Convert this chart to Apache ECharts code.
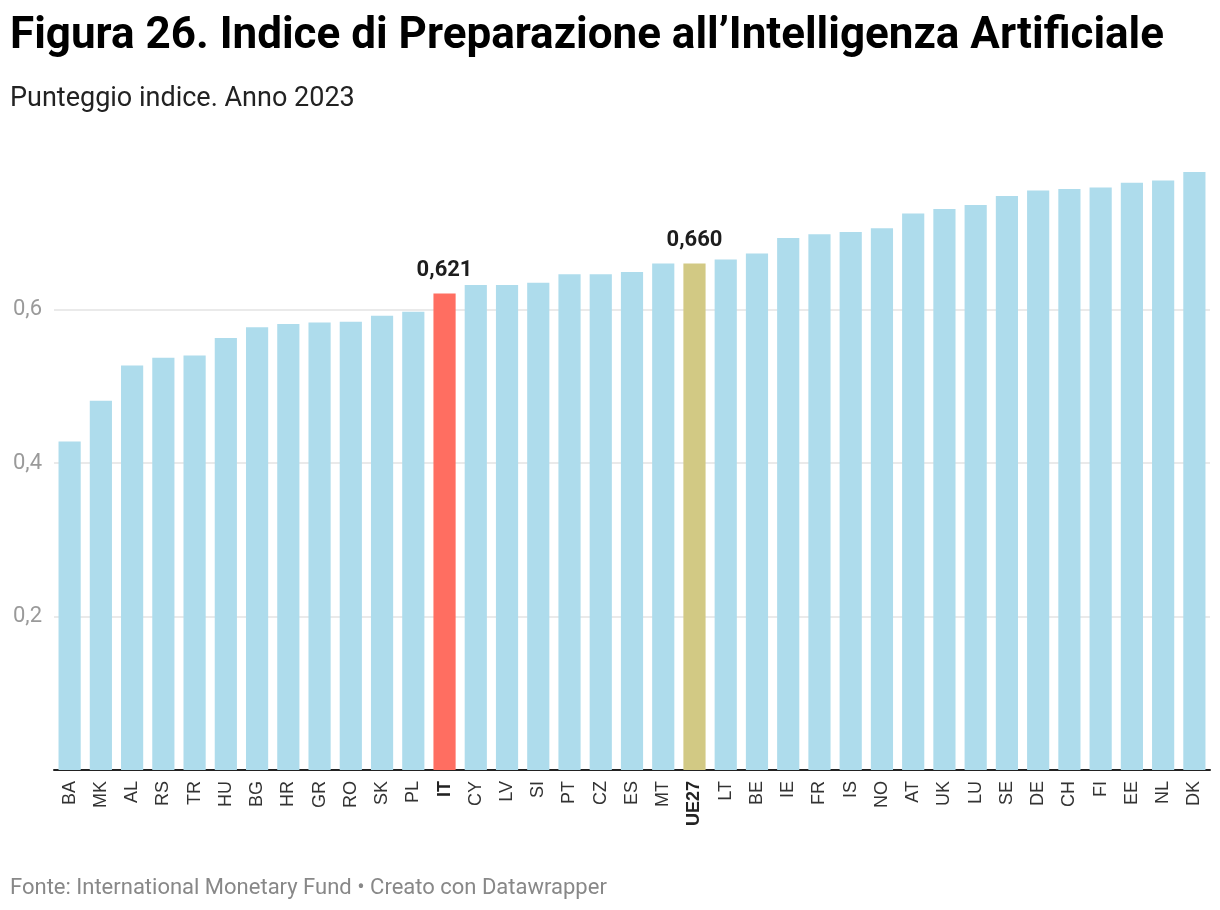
<!DOCTYPE html>
<html>
<head>
<meta charset="utf-8">
<script src="https://cdn.jsdelivr.net/npm/echarts@6/dist/echarts.min.js"></script>
<style>
html,body{margin:0;padding:0;background:#fff;}
#chart{width:1220px;height:910px;}
</style>
</head>
<body>
<div id="chart"></div>
<script>
const categories = ['BA','MK','AL','RS','TR','HU','BG','HR','GR','RO','SK','PL','IT','CY','LV','SI','PT','CZ','ES','MT','UE27','LT','BE','IE','FR','IS','NO','AT','UK','LU','SE','DE','CH','FI','EE','NL','DK'];
const values = [0.428,0.481,0.527,0.537,0.540,0.563,0.577,0.581,0.583,0.584,0.592,0.597,0.621,0.632,0.632,0.635,0.646,0.646,0.649,0.660,0.660,0.665,0.673,0.693,0.698,0.701,0.706,0.725,0.731,0.736,0.748,0.755,0.757,0.759,0.765,0.768,0.779];
const yTicks = [0.2,0.4,0.6];
const highlightColors = {IT:'#ff6e61', UE27:'#d2c984'};
const baseColor = '#aedcec';

const chart = echarts.init(document.getElementById('chart'), null, {renderer:'canvas'});
const data = values.map((v,i)=>{
  const c = categories[i];
  const hl = highlightColors[c];
  const item = {value:v, itemStyle:{color: hl || baseColor}};
  if (hl) {
    item.label = {show:true, position:'top', distance:12, formatter: p => p.value.toFixed(3).replace('.',','),
      fontFamily:'Roboto', fontWeight:'bold', fontSize:22, color:'#1d1d1d'};
  }
  return item;
});
const option = {
  backgroundColor:'#fff',
  animation:false,
  title:[
    {text:'Figura 26. Indice di Preparazione all\u2019Intelligenza Artificiale', left:5, top:10,
     textStyle:{fontFamily:'Roboto', fontWeight:'bold', fontSize:44, color:'#000'}},
    {text:'Punteggio indice. Anno 2023', left:5, top:81,
     textStyle:{fontFamily:'Roboto', fontWeight:'normal', fontSize:27, color:'#222'}},
    {text:'Fonte: International Monetary Fund \u2022 Creato con Datawrapper', left:5, top:872,
     textStyle:{fontFamily:'Roboto', fontWeight:'normal', fontSize:22, color:'#888'}}
  ],
  grid:{left:54, right:10, top:156, bottom:140},
  xAxis:{
    type:'category', data:categories,
    axisLine:{show:true, lineStyle:{color:'#222', width:2}},
    axisTick:{show:false},
    axisLabel:{rotate:90, margin:11, interval:0, fontFamily:'Liberation Sans, Arial', fontSize:18, color:'#333',
      formatter: v => highlightColors[v] ? '{b|'+v+'}' : v,
      rich:{b:{fontWeight:'bold', fontFamily:'Liberation Sans, Arial', fontSize:18, color:'#222'}}}
  },
  yAxis:{
    type:'value', min:0, max:0.8, interval:0.2,
    axisLine:{show:false}, axisTick:{show:false},
    axisLabel:{margin:12, fontFamily:'Roboto', fontSize:22, color:'#9a9a9a',
      formatter: v => yTicks.some(t=>Math.abs(t-v)<1e-9) ? v.toFixed(1).replace('.',',') : ''},
    splitLine:{show:true, lineStyle:{color:['rgba(0,0,0,0)','#e3e3e3','#e3e3e3','#e3e3e3','rgba(0,0,0,0)'], width:1.5}}
  },
  series:[{
    type:'bar', data:data, barCategoryGap:'29%',
    label:{show:false}
  }]
};
chart.setOption(option);
</script>
</body>
</html>
